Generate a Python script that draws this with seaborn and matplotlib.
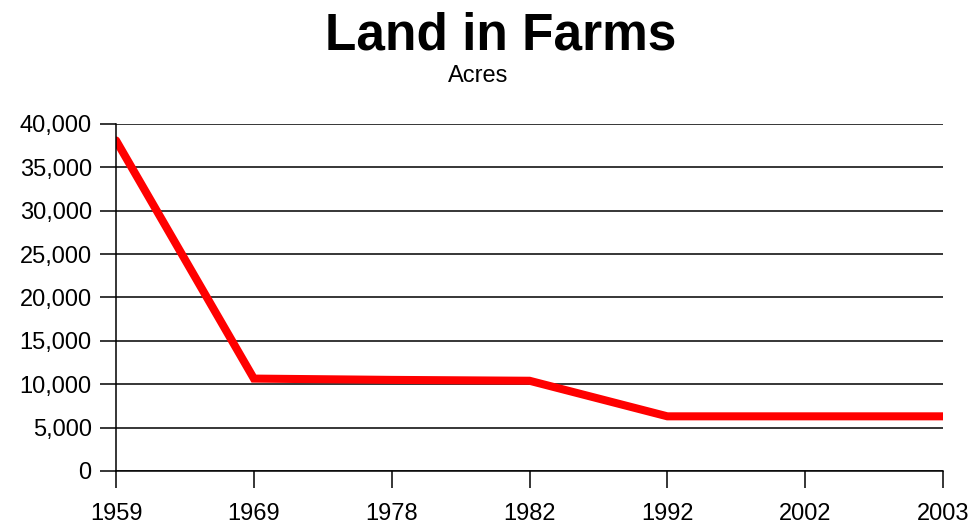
import numpy as np
import pandas as pd
import matplotlib
matplotlib.use("Agg")
import matplotlib.pyplot as plt
import seaborn as sns
from matplotlib.ticker import FuncFormatter

years = ["1959", "1969", "1978", "1982", "1992", "2002", "2003"]
acres = [38100, 10650, 10500, 10400, 6300, 6300, 6300]

df = pd.DataFrame({"year": years, "acres": acres})

sns.set_style("white")
plt.rcParams["font.family"] = ["Liberation Sans", "DejaVu Sans"]
plt.rcParams["text.color"] = "black"
plt.rcParams["xtick.color"] = "black"
plt.rcParams["ytick.color"] = "black"

fig = plt.figure(figsize=(9.76, 5.26), dpi=100)
ax = fig.add_axes([0.1189, 0.1046, 0.8473, 0.6597])

sns.lineplot(data=df, x="year", y="acres", sort=False, color="#ff0000",
             linewidth=5.8, ax=ax, solid_joinstyle="miter")

ax.set_xlim(0, len(years) - 1)
ax.set_ylim(0, 40000)
ax.set_yticks(np.arange(0, 40001, 5000))
ax.yaxis.set_major_formatter(FuncFormatter(lambda v, p: f"{int(v):,}"))
ax.grid(axis="y", color="black", linewidth=1.1)
ax.set_axisbelow(True)

for s in ["top", "right"]:
    ax.spines[s].set_visible(False)
for s in ["left", "bottom"]:
    ax.spines[s].set_color("black")
    ax.spines[s].set_linewidth(1.1)

ax.tick_params(axis="y", length=11.5, width=1.1, labelsize=17, pad=6, left=True)
ax.tick_params(axis="x", length=12, width=1.1, labelsize=17, pad=11, bottom=True)
ax.set_xlabel("")
ax.set_ylabel("")

fig.text(0.513, 0.905, "Land in Farms", ha="center", va="baseline",
         fontsize=37, fontweight="bold")
fig.text(0.490, 0.844, "Acres", ha="center", va="baseline", fontsize=17)

fig.savefig("out.png", dpi=100)
